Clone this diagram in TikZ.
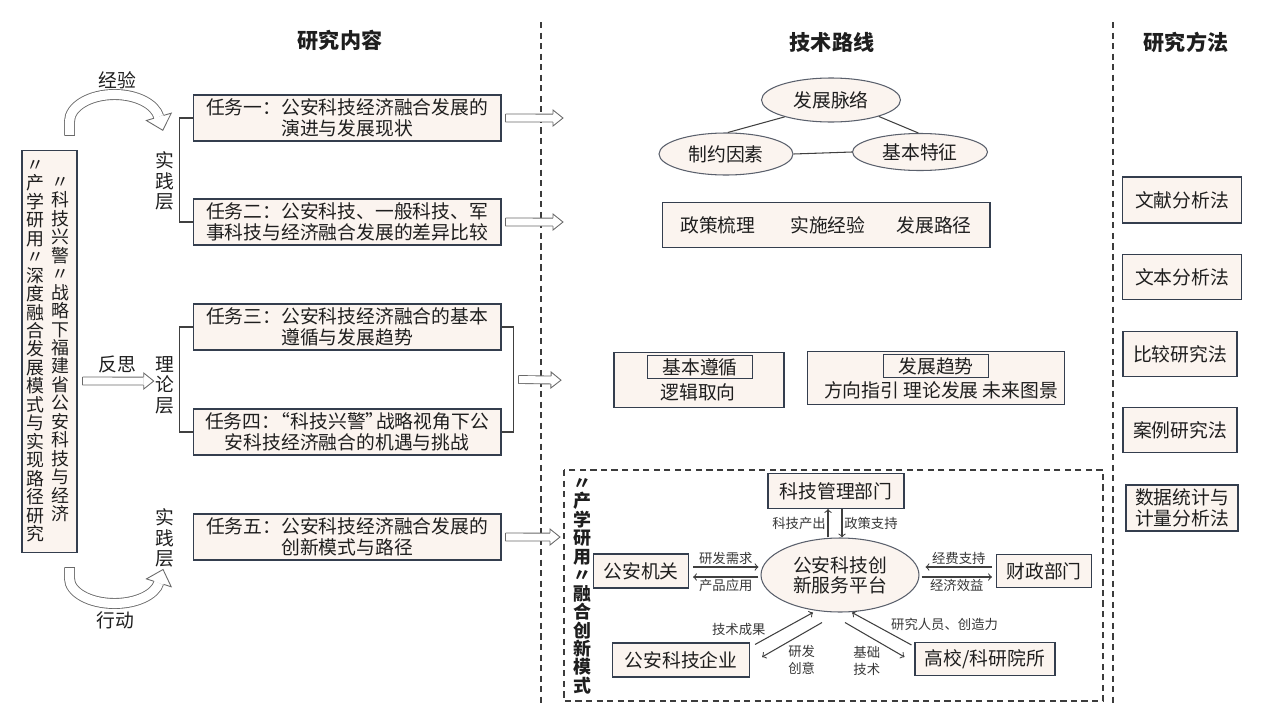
\documentclass[tikz,border=0pt]{standalone}
\usepackage{fontspec}
\setmainfont{Noto Sans CJK SC}
\usepackage{tikz}
\usetikzlibrary{shapes.geometric, calc, decorations.markings}

\definecolor{boxc}{RGB}{251,244,239}
\definecolor{edgec}{RGB}{52,62,78}
\definecolor{ellc}{RGB}{90,96,108}
\definecolor{arrc}{RGB}{105,105,105}
\definecolor{linec}{RGB}{64,64,64}
\definecolor{dashc}{RGB}{60,60,60}
\definecolor{txtc}{RGB}{30,30,30}
\definecolor{labc}{RGB}{55,55,55}

\tikzset{
  head/.style={font=\fontsize{12}{14}\selectfont\bfseries},
  box/.style={draw=edgec, fill=boxc, line width=0.6pt, inner sep=1pt, align=center},
  task/.style={minimum width=6.16cm, minimum height=0.92cm},
  inbox/.style={draw=edgec, line width=0.6pt, minimum width=2.1cm, minimum height=0.46cm, inner sep=0pt},
  oval/.style={ellipse, draw=ellc, fill=boxc, line width=0.6pt, inner sep=0pt, align=center},
  vtext/.style={align=center, inner sep=0pt, font=\fontsize{10.2}{10.5}\selectfont},
  vbold/.style={align=center, inner sep=0pt, font=\fontsize{10.2}{10.5}\selectfont\bfseries},
  layer/.style={align=center, inner sep=2pt, font=\fontsize{10.7}{11.6}\selectfont},
  tag/.style={font=\fontsize{7.6}{9.6}\selectfont, text=labc, align=center, inner sep=1pt},
  link/.style={draw=linec, line width=0.6pt, ->},
  plain/.style={draw=linec, line width=0.6pt},
  bracket/.style={draw=linec, line width=0.6pt},
  divider/.style={draw=dashc, line width=0.6pt, dash pattern=on 3.5pt off 2.5pt},
  % hollow arrow: outer width, inner width, half width, head half width, head length (px)
  fatarrow/.style n args={5}{
    postaction={draw=arrc, line width=#1},
    postaction={draw=white, line width=#2},
    postaction={decorate, decoration={markings,
      mark=at position 0 with {\draw[arrc, line width=0.5pt] (0,-#3) -- (0,#3);},
      mark=at position 1 with {\fill[white] (0,-#4) -- (#5,0) -- (0,#4) -- cycle;
        \draw[arrc, line width=0.5pt] (0,-#3) -- (0,-#4) -- (#5,0) -- (0,#4) -- (0,#3);}}}},
}

\begin{document}
\begin{tikzpicture}[x=0.02cm, y=-0.02cm, font=\fontsize{10.7}{12}\selectfont, text=txtc]
\useasboundingbox (0,0) rectangle (1268,720);

% column heads
\node[head] (hnr) at (340,40) {研究内容};
\node[head] (hlx) at (832,42) {技术路线};
\node[head] (hff) at (1186,42) {研究方法};
\draw[divider] (541,22) -- (541,706);
\draw[divider] (1113,22) -- (1113,706);

% research content
\node[box, minimum width=1.1cm, minimum height=8.06cm] (title) at (49.5,351.5) {};
\node[vtext, anchor=north] (title1) at (35,160) {〃\\产\\学\\研\\用\\〃\\深\\度\\融\\合\\发\\展\\模\\式\\与\\实\\现\\路\\径\\研\\究};
\node[vtext, anchor=north] (title2) at (60,177) {〃\\科\\技\\兴\\警\\〃\\战\\略\\下\\福\\建\\省\\公\\安\\科\\技\\与\\经\\济};

\node[box, task] (t1) at (347,118) {任务一：公安科技经济融合发展的\\演进与发展现状};
\node[box, task] (t2) at (347,222) {任务二：公安科技、一般科技、军\\事科技与经济融合发展的差异比较};
\node[box, task] (t3) at (347,327) {任务三：公安科技经济融合的基本\\遵循与发展趋势};
\node[box, task] (t4) at (347,432) {任务四：\hspace{-0.45em}“科技兴警”\hspace{-0.45em}战略视角下公\\安科技经济融合的机遇与挑战};
\node[box, task] (t5) at (347,537) {任务五：公安科技经济融合发展的\\创新模式与路径};

\node[layer] (sj1) at (165,181) {实\\践\\层};
\node[layer] (ll) at (165,385) {理\\论\\层};
\node[layer] (sj2) at (165,538) {实\\践\\层};
\draw[bracket] (t1.west) -- ++(-13,0) |- (t2.west);
\draw[bracket] (t3.west) -- ++(-13,0) |- (t4.west);
\draw[bracket] (t3.east) -- ++(12,0) coordinate (k1) |- (t4.east);
\coordinate (k2) at ($(k1)!0.5!(k1 |- t4.east)$);

\node (jy) at (117,80) {经验};
\node (fs) at (117,364) {反思};
\node (xd) at (115,620) {行动};
\path[fatarrow={6.2pt}{5.2pt}{5}{13}{14}] ($(title.north)+(20,-14)$) -- ++(0,-14)
  arc[start angle=180, end angle=350, x radius=45, y radius=27];
\path[fatarrow={6.2pt}{5.2pt}{5}{13}{14}] ($(title.south)+(20,14)$) -- ++(0,11)
  arc[start angle=180, end angle=10, x radius=45, y radius=25];
\path[fatarrow={5pt}{4pt}{4}{8}{10}] ($(title.east)+(5,29.5)$) -- ($(ll.west)+(-8,-3.98)$);

\coordinate (r1) at (553,118.02);
\coordinate (r2) at (553,222.02);
\coordinate (r3) at (551,380);
\coordinate (r5) at (550,537.02);
\path[fatarrow={5pt}{4pt}{4}{8}{10}] ($(t1.east)+(4,0)$) -- (r1);
\path[fatarrow={5pt}{4pt}{4}{8}{10}] ($(t2.east)+(4,0)$) -- (r2);
\path[fatarrow={5pt}{4pt}{4}{8}{10}] ($(k2)+(5,0)$) -- (r3);
\path[fatarrow={5pt}{4pt}{4}{8}{10}] ($(t5.east)+(4,0)$) -- (r5);

% technical route
\node[oval, minimum width=2.78cm, minimum height=0.88cm] (mai) at (831,100) {发展脉络};
\node[oval, minimum width=2.68cm, minimum height=0.84cm] (ys) at (726,154) {制约因素};
\node[oval, minimum width=2.7cm, minimum height=0.74cm] (tz) at (920,152) {基本特征};
\draw[plain] (mai.200) -- (ys.85);
\draw[plain] (mai.-19) -- (tz.95);
\draw[plain] (ys.east) -- (tz.west);

\node[box, minimum width=6.56cm, minimum height=0.9cm] (lj) at (826,225) {政策梳理\hspace{0.7cm}实施经验\hspace{0.62cm}发展路径};

\node[box, minimum width=3.4cm, minimum height=1.1cm] (zx) at (699,380) {};
\node[inbox] (zx1) at (700,367) {基本遵循};
\node (zx2) at (698,392) {逻辑取向};
\node[box, minimum width=5.14cm, minimum height=1.06cm] (qs) at (936,378) {};
\node[inbox] (qs1) at (936,366) {发展趋势};
\node (qs2) at (941,390) {方向指引 理论发展 未来图景};

% innovation model
\draw[divider] (564,470) rectangle (1103,701);
\node[vbold, anchor=north] (cxy) at (582,478) {〃\\产\\学\\研\\用\\〃\\融\\合\\创\\新\\模\\式};

\node[box, minimum width=2.72cm, minimum height=0.7cm] (gl) at (836,491) {科技管理部门};
\node[oval, minimum width=3.16cm, minimum height=1.48cm, font=\fontsize{10.7}{11.3}\selectfont] (pt) at (840,575) {公安科技创\\新服务平台};
\node[box, minimum width=1.9cm, minimum height=0.68cm] (ga) at (641,571) {公安机关};
\node[box, minimum width=1.9cm, minimum height=0.66cm] (cz) at (1044,571) {财政部门};
\node[box, minimum width=2.74cm, minimum height=0.68cm] (qy) at (681,660) {公安科技企业};
\node[box, minimum width=2.8cm, minimum height=0.66cm] (gx) at (985,659) {高校/科研院所};

\draw[link] ($(pt.north)+(-12,0)$) -- node[tag, left] {科技产出} ($(gl.south)+(-8,0)$);
\draw[link] ($(gl.south)+(6,0)$) -- node[tag, right] {政策支持} ($(pt.north)+(2,0)$);
\draw[link] ($(ga.east)+(4,-4)$) -- node[tag, above] {研发需求} ($(ga.east -| pt.west)+(-2,-4)$);
\draw[link] ($(ga.east -| pt.west)+(-2,6)$) -- node[tag, below] {产品应用} ($(ga.east)+(4,6)$);
\draw[link] ($(cz.west)+(-4,-4)$) -- node[tag, above] {经费支持} ($(cz.west -| pt.east)+(6,-4)$);
\draw[link] ($(cz.west -| pt.east)+(2,6)$) -- node[tag, below] {经济效益} ($(cz.west)+(-4,6)$);
\draw[link] ($(qy.north east)+(5,2)$) -- node[tag, pos=0.22, above left] {技术成果} ($(pt.south)+(-27,0)$);
\draw[link] ($(pt.south)+(-18,10)$) -- node[tag, pos=0.6, below right] {研发\\创意} ($(qy.east)+(12,-3)$);
\draw[link] ($(gx.north west)+(-3,3)$) -- node[tag, pos=0.38, above right] {研究人员、创造力} ($(pt.south)+(12,0)$);
\draw[link] ($(pt.south)+(5,10)$) -- node[tag, pos=0.63, below left] {基础\\技术} ($(gx.west)+(-10,-2)$);

% research methods
\node[box, minimum width=2.38cm, minimum height=0.92cm] (m1) at (1182,200) {文献分析法};
\node[box, minimum width=2.38cm, minimum height=0.9cm] (m2) at (1182,277) {文本分析法};
\node[box, minimum width=2.28cm, minimum height=0.9cm] (m3) at (1180,354) {比较研究法};
\node[box, minimum width=2.28cm, minimum height=0.9cm] (m4) at (1180,430) {案例研究法};
\node[box, minimum width=2.24cm, minimum height=0.92cm] (m5) at (1182,508) {数据统计与\\计量分析法};
\end{tikzpicture}
\end{document}
